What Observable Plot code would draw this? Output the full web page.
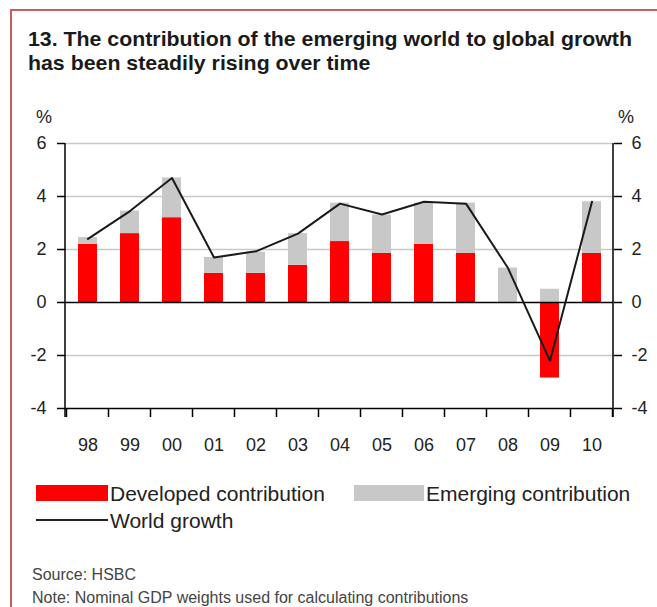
<!DOCTYPE html>
<html><head><meta charset="utf-8">
<script src="https://cdn.jsdelivr.net/npm/d3@7"></script>
<script src="https://cdn.jsdelivr.net/npm/@observablehq/plot@0.6"></script>
<style>
body{margin:0;width:657px;height:607px;overflow:hidden;background:#fff;position:relative;font-family:"Liberation Sans",Arial,sans-serif;color:#1a1a1a;}
.abs{position:absolute;white-space:nowrap;}
.tt{font-weight:bold;font-size:21px;line-height:23.5px;color:#1a1a1a;transform:scaleX(1.015);transform-origin:0 0;}
.lg{font-size:21px;line-height:21px;color:#222;}
.ft{font-size:16px;line-height:16px;color:#444;}
</style></head><body>
<div style="position:absolute;left:10px;top:9px;width:700px;height:700px;border-left:2px solid #cf5c5c;border-top:2px solid #cf5c5c;"></div>
<div class="abs tt" style="left:28px;top:27px;">13. The contribution of the emerging world to global growth</div>
<div class="abs tt" style="left:28px;top:50.5px;">has been steadily rising over time</div>
<div class="abs" style="left:36px;top:108px;font-size:18px;line-height:18px;color:#222">%</div>
<div class="abs" style="left:618px;top:108px;font-size:18px;line-height:18px;color:#222">%</div>
<div id="chart" style="position:absolute;left:0;top:100px;"></div>
<div class="abs" style="left:36px;top:485px;width:72px;height:16px;background:#ff0000"></div>
<div class="abs lg" style="left:110px;top:483px;">Developed contribution</div>
<div class="abs" style="left:354px;top:485px;width:70px;height:16px;background:#c8c8c8"></div>
<div class="abs lg" style="left:426px;top:483px;">Emerging contribution</div>
<div class="abs" style="left:36px;top:519px;width:72px;height:2px;background:#222"></div>
<div class="abs lg" style="left:110px;top:510px;">World growth</div>
<div class="abs ft" style="left:32px;top:566.5px;">Source: HSBC</div>
<div class="abs ft" style="left:32px;top:589.5px;">Note: Nominal GDP weights used for calculating contributions</div>
<script>
const years = ["98","99","00","01","02","03","04","05","06","07","08","09","10"];
const developed = [2.2, 2.6, 3.2, 1.1, 1.1, 1.4, 2.3, 1.85, 2.2, 1.85, 0, -2.85, 1.85];
const emerging  = [0.25, 0.85, 1.5, 0.6, 0.8, 1.2, 1.45, 1.45, 1.55, 1.9, 1.3, 0.5, 1.95];
const world     = [2.4, 3.45, 4.7, 1.7, 1.93, 2.6, 3.73, 3.32, 3.8, 3.73, 1.3, -2.2, 3.8];
const seriesNames = ["Developed contribution", "Emerging contribution"];
const seriesColors = ["#ff0000", "#c8c8c8"];
const yTicks = [-4, -2, 0, 2, 4, 6];
const gridVals = [-2, 2, 4, 6];
const blackRules = [0, -4];

const rows = [];
years.forEach((y, i) => {
  rows.push({year: y, series: seriesNames[0], value: developed[i]});
  rows.push({year: y, series: seriesNames[1], value: emerging[i]});
});
const worldRows = years.map((y, i) => ({year: y, value: world[i]}));

function edges(index, scales, values, dims) {
  const x = scales.x, y = scales.y;
  const left = dims.marginLeft, right = dims.width - dims.marginRight;
  const step = x.step ? x.step() : (right - left) / years.length;
  const bw = x.bandwidth ? x.bandwidth() : step * 0.45;
  const yTop = y(6), yBot = y(-4);
  const g = d3.create("svg:g").attr("stroke", "#000").attr("stroke-width", 1.5).attr("fill", "none");
  g.append("line").attr("x1", left).attr("x2", left).attr("y1", yTop).attr("y2", yBot + 9);
  g.append("line").attr("x1", right).attr("x2", right).attr("y1", yTop).attr("y2", yBot + 9);
  const bounds = years.map(d => x(d) - (step - bw) / 2);
  bounds.push(x(years[years.length - 1]) + bw + (step - bw) / 2);
  bounds.forEach(b => g.append("line").attr("x1", b).attr("x2", b).attr("y1", yBot).attr("y2", yBot + 9));
  return g.node();
}

const plot = Plot.plot({
  width: 657, height: 370,
  marginLeft: 65, marginRight: 44, marginTop: 43, marginBottom: 62,
  x: {domain: years, paddingInner: 0.55, paddingOuter: 0.275, label: null},
  y: {domain: [-4, 6], label: null},
  color: {domain: seriesNames, range: seriesColors},
  style: {fontFamily: "'Liberation Sans', Arial, sans-serif", fontSize: "18px", color: "#222", background: "transparent", overflow: "visible"},
  marks: [
    Plot.ruleY(gridVals, {stroke: "#c8c8c8", strokeWidth: 1.5}),
    Plot.barY(rows, {x: "year", y: "value", fill: "series"}),
    Plot.ruleY(blackRules, {stroke: "#000", strokeWidth: 1.5}),
    Plot.line(worldRows, {x: "year", y: "value", stroke: "#1a1a1a", strokeWidth: 2}),
    Plot.axisY({anchor: "left", ticks: yTicks, tickSize: 8, tickPadding: 11, tickFormat: d => String(d), fontSize: 18, label: null, stroke: "#000", strokeWidth: 1.5}),
    Plot.axisY({anchor: "right", ticks: yTicks, tickSize: 8, tickPadding: 10, tickFormat: d => String(d), fontSize: 18, label: null, stroke: "#000", strokeWidth: 1.5}),
    Plot.axisX({anchor: "bottom", tickSize: 0, tickPadding: 30, fontSize: 18, label: null}),
    edges
  ]
});
document.getElementById("chart").appendChild(plot);
</script>
</body></html>
